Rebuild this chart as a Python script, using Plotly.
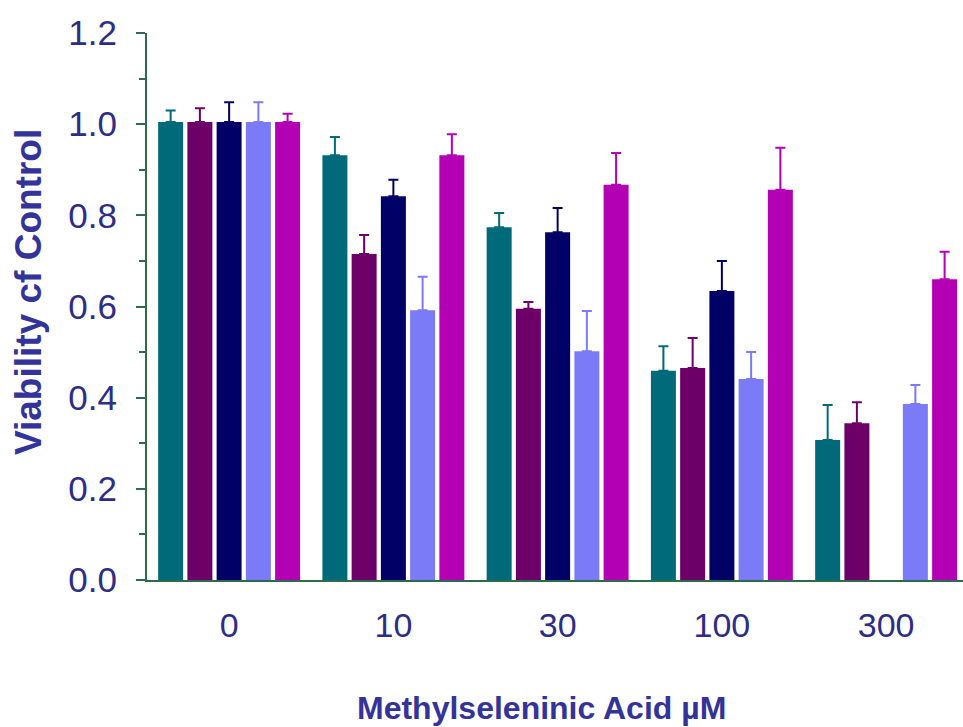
import plotly.graph_objects as go

categories = ["0", "10", "30", "100", "300"]
series_colors = ["#006a7a", "#6c0068", "#000066", "#7b7bf8", "#b400b4"]
series_values = [
    [1.005, 0.932, 0.774, 0.459, 0.307],
    [1.005, 0.715, 0.595, 0.465, 0.344],
    [1.005, 0.842, 0.763, 0.634, None],
    [1.005, 0.592, 0.502, 0.441, 0.386],
    [1.005, 0.932, 0.867, 0.856, 0.660],
]
series_err = [
    [0.025, 0.040, 0.031, 0.054, 0.077],
    [0.030, 0.042, 0.015, 0.066, 0.046],
    [0.043, 0.036, 0.053, 0.066, None],
    [0.043, 0.073, 0.088, 0.059, 0.042],
    [0.018, 0.046, 0.070, 0.092, 0.060],
]

fig = go.Figure()
for vals, errs, col in zip(series_values, series_err, series_colors):
    fig.add_trace(go.Bar(
        x=categories, y=vals,
        marker=dict(color=col, line=dict(width=0)),
        error_y=dict(type="data", symmetric=False, array=errs,
                     arrayminus=[0] * len(errs), color=col, thickness=2, width=5),
        showlegend=False,
    ))

axis_green = "#2f6b4b"
ytick_font = dict(family="Liberation Sans, Arial, sans-serif", size=35, color="#2d2d86")
xtick_font = dict(family="Liberation Sans, Arial, sans-serif", size=34, color="#2d2d86")

fig.update_layout(
    width=963, height=727,
    margin=dict(l=147, r=0, t=33, b=147),
    plot_bgcolor="white", paper_bgcolor="white",
    barmode="group", bargap=0.11, bargroupgap=0.145,
    xaxis=dict(type="category", range=[-0.5, 4.468], showline=True, linecolor=axis_green,
               linewidth=2, ticks="", showgrid=False, zeroline=False,
               tickfont=xtick_font, ticklabelstandoff=14),
    yaxis=dict(range=[0, 1.2], dtick=0.2, tickformat=".1f", showline=True,
               linecolor=axis_green, linewidth=2, ticks="outside", ticklen=9,
               tickwidth=2, tickcolor=axis_green, showgrid=False, zeroline=False,
               tickfont=ytick_font, ticklabelstandoff=12,
               minor=dict(dtick=0.1, ticks="outside", ticklen=6, tickwidth=2,
                          tickcolor=axis_green)),
    annotations=[
        dict(text="<b>Methylseleninic Acid µM</b>", xref="paper", yref="paper",
             x=(541 - 147) / 816, y=-(708 - 580) / 547, showarrow=False,
             font=dict(family="Liberation Sans, Arial, sans-serif", size=32, color="#333399"),
             xanchor="center", yanchor="middle"),
        dict(text="<b>Viability cf Control</b>", xref="paper", yref="paper",
             x=-(147 - 28) / 816, y=(580 - 292) / 547, showarrow=False,
             font=dict(family="Liberation Sans, Arial, sans-serif", size=37, color="#333399"),
             textangle=-90, xanchor="center", yanchor="middle"),
    ],
)

fig.write_html("out.html")
